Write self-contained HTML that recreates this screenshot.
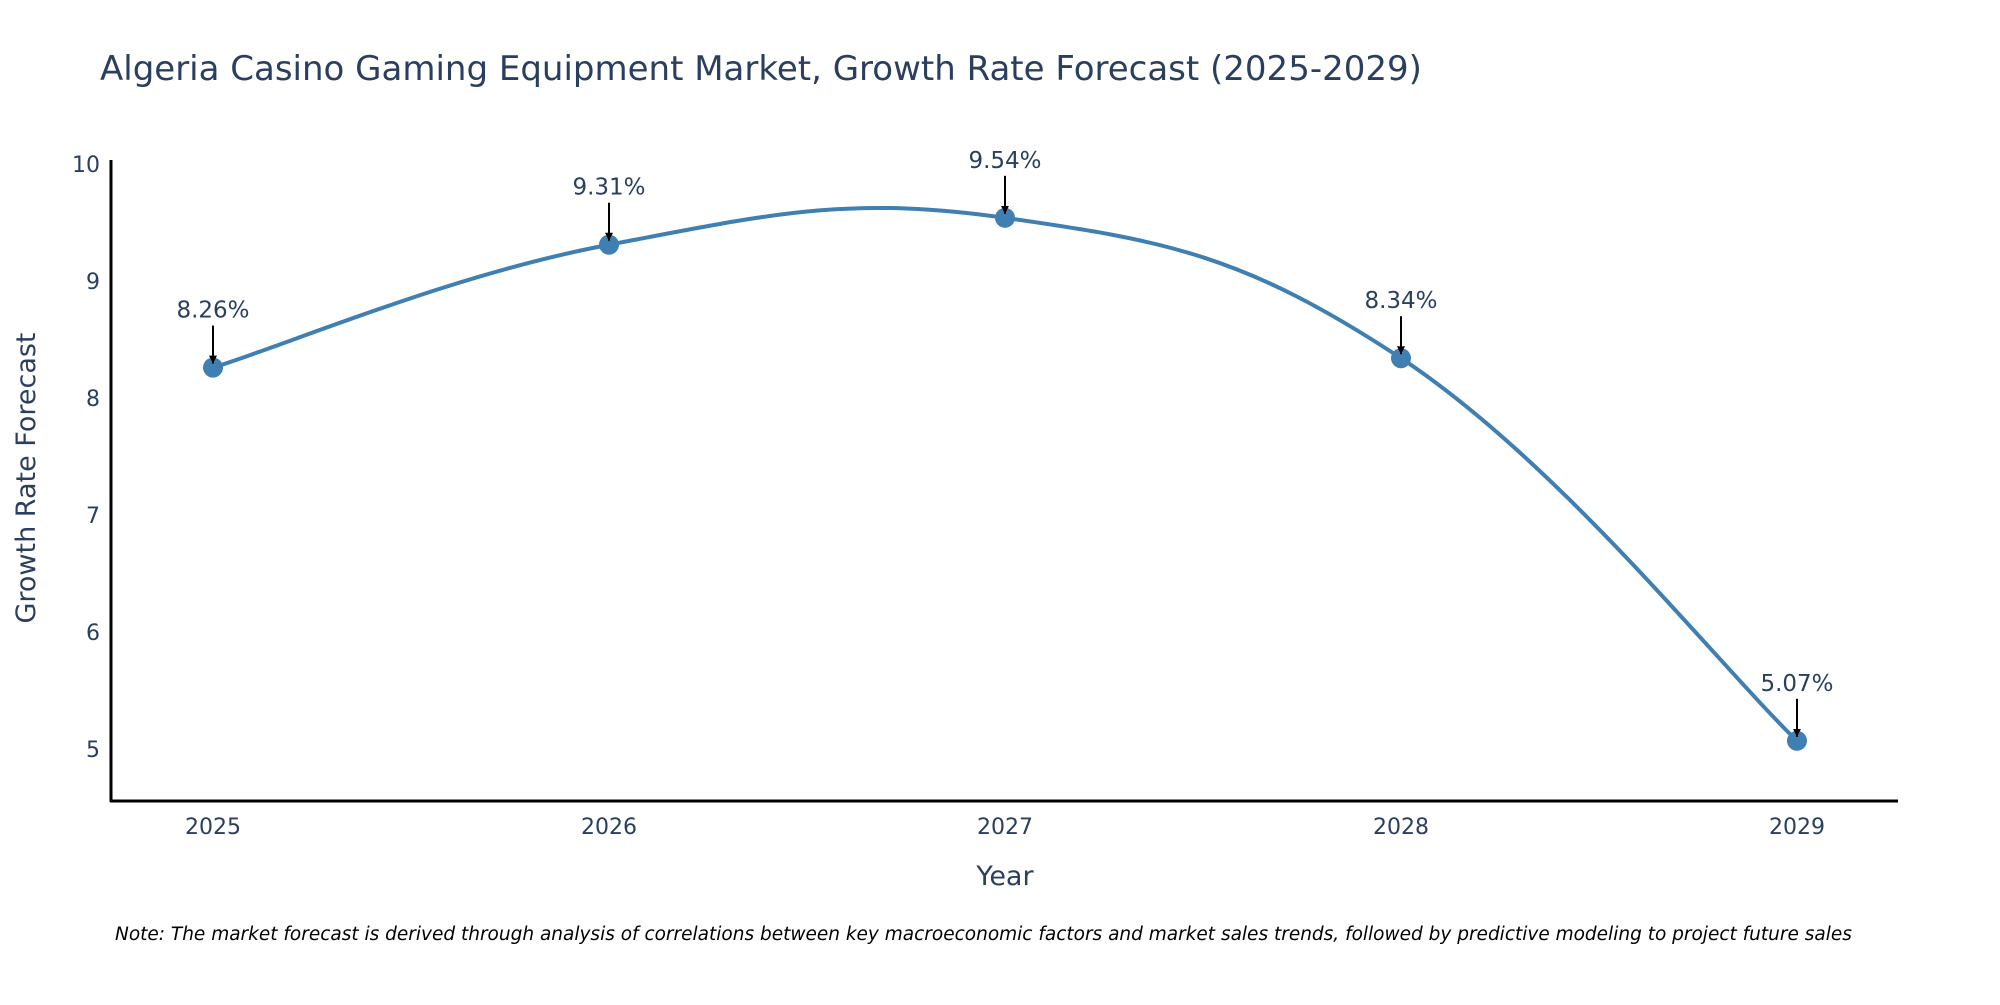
<!DOCTYPE html>
<html><head><meta charset="utf-8"><style>
body{margin:0;background:#fff;}
svg text{font-family:"DejaVu Sans","Liberation Sans",sans-serif;fill:#2a3f5f;}
</style></head><body>
<svg id="chart" width="2000" height="1000" xmlns="http://www.w3.org/2000/svg">
<text x="100" y="80" font-size="34">Algeria Casino Gaming Equipment Market, Growth Rate Forecast (2025-2029)</text>
<g id="yticks"></g>
<g id="xticks"></g>
<line x1="111" y1="160" x2="111" y2="802" stroke="#000" stroke-width="3"/>
<line x1="110" y1="801" x2="1898" y2="801" stroke="#000" stroke-width="3"/>
<text transform="translate(35,478) rotate(-90)" text-anchor="middle" font-size="27">Growth Rate Forecast</text>
<text x="1005" y="885" text-anchor="middle" font-size="27">Year</text>
<g id="series"></g>
<g id="annots"></g>
<text x="115" y="940" font-size="18.5" font-style="italic" style="fill:#000">Note: The market forecast is derived through analysis of correlations between key macroeconomic factors and market sales trends, followed by predictive modeling to project future sales</text>
<defs><marker id="ah" viewBox="0 0 10 10" refX="10" refY="5" markerWidth="8" markerHeight="8" markerUnits="userSpaceOnUse" orient="auto"><path d="M0,0L10,5L0,10z" fill="#000"/></marker></defs>
</svg>
<script>
const categories=["2025","2026","2027","2028","2029"];
const values=[8.26,9.31,9.54,8.34,5.07];
const labels=["8.26%","9.31%","9.54%","8.34%","5.07%"];
const yTicks=[5,6,7,8,9,10];
const NS="http://www.w3.org/2000/svg";
const xs=i=>213+i*396;
const ys=v=>281-(v-9)*117;
function mk(t,a,p){const e=document.createElementNS(NS,t);for(const k in a)e.setAttribute(k,a[k]);p.appendChild(e);return e;}
const yt=document.getElementById('yticks'),xt=document.getElementById('xticks');
yTicks.forEach(v=>{const t=mk('text',{x:100,y:ys(v)+8,'text-anchor':'end','font-size':22},yt);t.textContent=v;

});
categories.forEach((c,i)=>{const t=mk('text',{x:xs(i),y:834,'text-anchor':'middle','font-size':22},xt);t.textContent=c;

});
const pts=values.map((v,i)=>[xs(i),ys(v)]);
let d=`M${pts[0][0]},${pts[0][1]}`;const s=0.4;
for(let i=0;i<pts.length-1;i++){const p0=pts[Math.max(i-1,0)],p1=pts[i],p2=pts[i+1],p3=pts[Math.min(i+2,pts.length-1)];
d+=` C${p1[0]+(p2[0]-p0[0])*s/2},${p1[1]+(p2[1]-p0[1])*s/2} ${p2[0]-(p3[0]-p1[0])*s/2},${p2[1]-(p3[1]-p1[1])*s/2} ${p2[0]},${p2[1]}`;}
const g=document.getElementById('series');
const ln=mk('path',{d:d,fill:'none',stroke:'#3f7fb1','stroke-width':4},g);


const an=document.getElementById('annots');
pts.forEach((p,i)=>{const c=mk('circle',{cx:p[0],cy:p[1],r:10,fill:'#3f7fb1'},g);


const a=mk('line',{x1:p[0],y1:p[1]-42,x2:p[0],y2:p[1]-4,stroke:'#000','stroke-width':2,'marker-end':'url(#ah)'},an);


const t=mk('text',{x:p[0],y:p[1]-50,'text-anchor':'middle','font-size':23},an);t.textContent=labels[i];

});
</script>
</body></html>
